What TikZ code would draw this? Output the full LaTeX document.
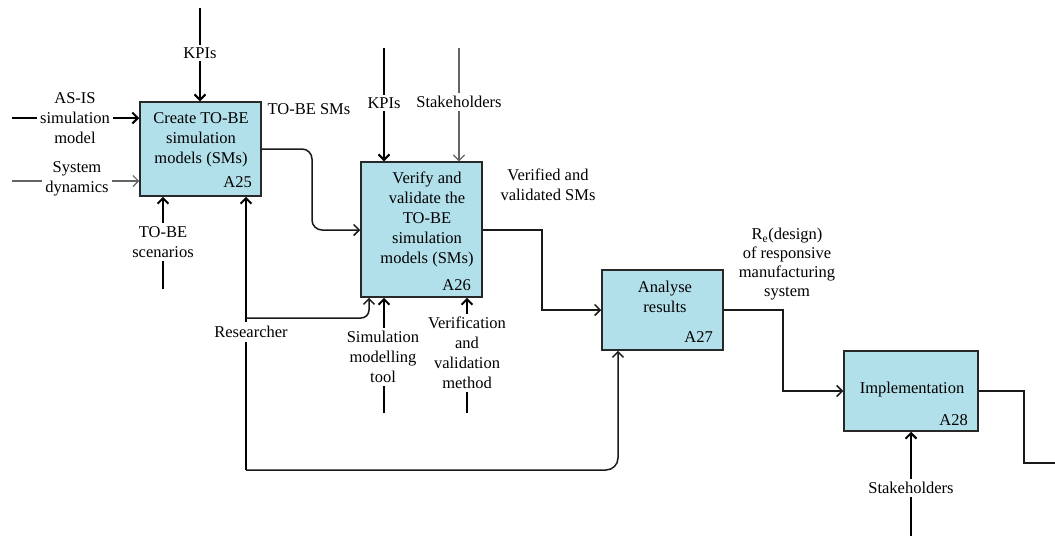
\documentclass[tikz,border=0pt]{standalone}
\usepackage{fontspec}
\setmainfont{Liberation Serif}
\usetikzlibrary{arrows.meta}
\definecolor{boxfill}{RGB}{178,224,234}
\definecolor{boxline}{RGB}{40,40,40}
\definecolor{thinline}{RGB}{100,100,100}
\begin{document}
\begin{tikzpicture}[x=1pt,y=-1pt,
  font=\fontsize{16.5}{20}\selectfont,
  >={Straight Barb[length=5.5pt,width=11pt]},
  box/.style={draw=boxline,fill=boxfill,line width=1.5pt,inner sep=0pt},
  thickarr/.style={->,line width=2pt,draw=black},
  conn/.style={->,line width=1.5pt,draw=black!90},
  grayarr/.style={->,line width=1.2pt,draw=thinline},
  lbl/.style={fill=white,align=center,inner sep=3pt},
  txt/.style={align=center,inner sep=0pt},
  num/.style={anchor=base east,inner sep=0pt}]
\useasboundingbox (0,0) rectangle (1055,542);

% boxes
\node[box,minimum width=121pt,minimum height=94pt] (a25) at (200.5,149) {};
\node[box,minimum width=121pt,minimum height=135pt] (a26) at (421.5,229.5) {};
\node[box,minimum width=121pt,minimum height=80pt] (a27) at (662.5,310) {};
\node[box,minimum width=134pt,minimum height=80pt] (a28) at (911,391) {};

% free ends and bend points
\coordinate (k1) at (200,8);
\coordinate (as) at (12,118);
\coordinate (sd) at (12,181);
\coordinate (ts) at (163,289);
\coordinate (r0) at (246,470);
\coordinate (rb) at (246,318);
\coordinate (rc) at (369,318);
\coordinate (rd) at (618,470);
\coordinate (t0) at (312,149);
\coordinate (t1) at (312,230);
\coordinate (k2) at (384,48);
\coordinate (s2) at (459,48);
\coordinate (sm) at (384,413);
\coordinate (vm) at (467,413);
\coordinate (v1) at (542,230);
\coordinate (r1) at (783,310);
\coordinate (o1) at (1024,391);
\coordinate (o2) at (1024,463);
\coordinate (oe) at (1055,463);
\coordinate (s3) at (911,536);

% connectors
\draw[thickarr] (k1) -- (k1 |- a25.north);
\draw[thickarr] (as) -- (as -| a25.west);
\draw[grayarr] (sd) -- (sd -| a25.west);
\draw[thickarr] (ts) -- (ts |- a25.south);
\draw[thickarr] (r0) -- (r0 |- a25.south);
\draw[conn,rounded corners=8pt] (rb) -- (rc) -- (rc |- a26.south);
\draw[conn,rounded corners=12pt] (r0) -- (rd) -- (rd |- a27.south);
\draw[conn,rounded corners=10pt] (a25.east) -- (t0) -- (t1) -- (t1 -| a26.west);
\draw[thickarr] (k2) -- (k2 |- a26.north);
\draw[grayarr] (s2) -- (s2 |- a26.north);
\draw[thickarr] (sm) -- (sm |- a26.south);
\draw[thickarr] (vm) -- (vm |- a26.south);
\draw[conn] (v1 -| a26.east) -- (v1) -- (v1 |- a27.west) -- (a27.west);
\draw[conn] (a27.east) -- (r1) -- (r1 |- a28.west) -- (a28.west);
\draw[line width=1.5pt,draw=black!90] (a28.east) -- (o1) -- (o2) -- (oe);
\draw[thickarr] (s3) -- (s3 |- a28.south);

% box texts
\node[txt] (t25) at (201,140) {Create TO-BE\\simulation\\models (SMs)};
\node[num] (n25) at (252,187) {A25};
\node[txt] (t26) at (427,219) {Verify and\\validate the\\TO-BE\\simulation\\models (SMs)};
\node[num] (n26) at (471,290) {A26};
\node[txt] (t27) at (665,297) {Analyse\\results};
\node[num] (n27) at (713,342) {A27};
\node[txt] (t28) at (912,390) {Implementation};
\node[num] (n28) at (968,425) {A28};

% labels
\node[lbl] (lk1) at (200,53) {KPIs};
\node[lbl] (las) at (75,118) {AS-IS\\simulation\\model};
\node[lbl] (lsd) at (77,178.5) {System\\dynamics};
\node[lbl] (lts) at (163,242) {TO-BE\\scenarios};
\node[lbl,inner ysep=4pt] (lr) at (251,332) {Researcher};
\node[txt] (ltb) at (309,109) {TO-BE SMs};
\node[lbl] (lk2) at (384,103) {KPIs};
\node[lbl] (ls2) at (459,102) {Stakeholders};
\node[lbl] (lsm) at (383,357) {Simulation\\modelling\\tool};
\node[lbl] (lvm) at (467,353) {Verification\\and\\validation\\method};
\node[txt] (lvv) at (548,185) {Verified and\\validated SMs};
\node[txt,font=\fontsize{16.5}{19}\selectfont] (lre) at (787,264) {R\textsubscript{e}(design)\\of responsive\\manufacturing\\system};
\node[lbl] (ls3) at (911,488) {Stakeholders};
\end{tikzpicture}
\end{document}
